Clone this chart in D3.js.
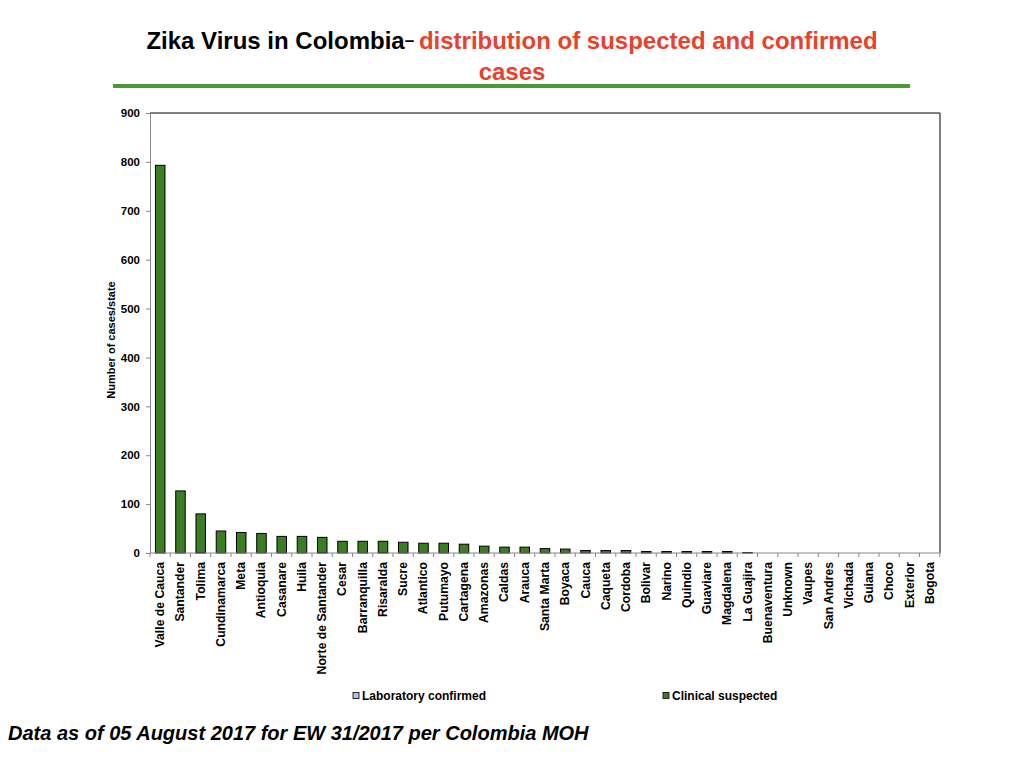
<!DOCTYPE html>
<html>
<head>
<meta charset="utf-8">
<script src="https://cdn.jsdelivr.net/npm/d3@7"></script>
<style>
  body { margin: 0; background: #fff; }
  text { font-family: "Liberation Sans", Arial, Helvetica, sans-serif; }
</style>
</head>
<body>
<svg id="chart"></svg>
<script>
// Data
const states = ["Valle de Cauca", "Santander", "Tolima", "Cundinamarca", "Meta", "Antioquia",
    "Casanare", "Huila", "Norte de Santander", "Cesar", "Barranquilla", "Risaralda", "Sucre",
    "Atlantico", "Putumayo", "Cartagena", "Amazonas", "Caldas", "Arauca", "Santa Marta",
    "Boyaca", "Cauca", "Caqueta", "Cordoba", "Bolivar", "Narino", "Quindio", "Guaviare",
    "Magdalena", "La Guajira", "Buenaventura", "Unknown", "Vaupes", "San Andres", "Vichada",
    "Guiana", "Choco", "Exterior", "Bogota"];
const labConfirmed = [0, 0, 1, 0, 0, 0, 0, 0, 1, 0, 0, 1, 0, 0, 0, 0, 0, 0, 0, 0,
    0, 0, 0, 0, 0, 0, 0, 0, 0, 0, 0, 0, 0, 0, 0, 0, 0, 0, 0];
const clinicalSuspected = [793, 127, 79, 45, 42, 40, 34, 34, 31, 24, 24, 23, 22, 20, 20, 18, 14, 12, 12, 9,
    8, 5, 5, 5, 3, 3, 3, 3, 3, 1, 0, 0, 0, 0, 0, 0, 0, 0, 0];
const yTicks = [0, 100, 200, 300, 400, 500, 600, 700, 800, 900];
const seriesNames = ["Laboratory confirmed", "Clinical suspected"];
const seriesColors = ["#a9c4e6", "#3a7d22"];

const width = 1024, height = 768;
const margin = {top: 113, bottom: 215, left: 150, right: 84};

const svg = d3.select("#chart")
    .attr("width", width)
    .attr("height", height);

// Title
const title = svg.append("text")
    .attr("x", 512)
    .attr("y", 49)
    .style("text-anchor", "middle")
    .style("font-weight", "bold")
    .style("font-size", "24px");
title.append("tspan").attr("fill", "#000").text("Zika Virus in Colombia");
title.append("tspan").attr("fill", "#000").attr("dy", -3).style("font-size", "17px").text("– ");
title.append("tspan").attr("fill", "#e8412c").attr("dy", 3).text(" distribution of suspected and confirmed");

svg.append("text")
    .attr("x", 512)
    .attr("y", 80)
    .style("text-anchor", "middle")
    .style("font-weight", "bold")
    .style("font-size", "24px")
    .attr("fill", "#e8412c")
    .text("cases");

svg.append("line")
    .attr("x1", 113).attr("x2", 910)
    .attr("y1", 86).attr("y2", 86)
    .attr("stroke", "#4a9a35")
    .attr("stroke-width", 4);

// Stack the two series
const table = states.map((s, i) => ({state: s, lab: labConfirmed[i], clinical: clinicalSuspected[i]}));
const stacked = d3.stack().keys(["lab", "clinical"])(table);

const xScale = d3.scaleBand()
    .domain(states)
    .range([margin.left, width - margin.right])
    .paddingInner(0.53)
    .paddingOuter(0.27);

const yScale = d3.scaleLinear()
    .domain([0, 900])
    .range([height - margin.bottom, margin.top]);

const plotRight = width - margin.right;
const plotBottom = height - margin.bottom;

// Top and right frame
svg.append("path")
    .attr("d", `M${margin.left},${margin.top}H${plotRight}V${plotBottom}`)
    .attr("fill", "none")
    .attr("stroke", "#000")
    .attr("stroke-width", 1);

// Bars
svg.append("g").selectAll("g")
    .data(stacked)
    .enter().append("g")
    .attr("fill", (d, i) => seriesColors[i])
    .selectAll("rect")
    .data(d => d.filter(p => p[1] - p[0] > 0))
    .enter().append("rect")
    .attr("x", d => xScale(d.data.state))
    .attr("y", d => yScale(d[1]))
    .attr("width", xScale.bandwidth())
    .attr("height", d => yScale(d[0]) - yScale(d[1]))
    .attr("stroke", "#000")
    .attr("stroke-width", 1);

// Y axis
const yAxis = svg.append("g")
    .attr("transform", `translate(${margin.left}, 0)`)
    .call(d3.axisLeft(yScale).tickValues(yTicks).tickSize(4).tickPadding(6));
yAxis.select(".domain").attr("stroke", "#888");
yAxis.selectAll(".tick line").attr("stroke", "#888");
yAxis.selectAll("text")
    .style("font-family", "'Liberation Sans', Arial, sans-serif")
    .style("font-weight", "bold")
    .style("font-size", "11.5px")
    .attr("fill", "#000");

// X axis: ticks at category boundaries
const xAxis = svg.append("g")
    .attr("transform", `translate(0, ${plotBottom})`);
xAxis.append("line")
    .attr("x1", margin.left).attr("x2", plotRight)
    .attr("stroke", "#888");
const step = xScale.step();
xAxis.selectAll(".bt")
    .data(d3.range(states.length + 1))
    .enter().append("line")
    .attr("x1", i => margin.left + i * step)
    .attr("x2", i => margin.left + i * step)
    .attr("y1", 0).attr("y2", 4)
    .attr("stroke", "#888");

xAxis.selectAll(".xl")
    .data(states)
    .enter().append("text")
    .attr("transform", d => `translate(${xScale(d) + xScale.bandwidth() / 2 + 4}, 9) rotate(-90)`)
    .style("text-anchor", "end")
    .style("font-weight", "bold")
    .style("font-size", "12.2px")
    .text(d => d);

// Y-axis label
svg.append("text")
    .attr("x", -340)
    .attr("y", 115)
    .attr("transform", "rotate(-90)")
    .style("text-anchor", "middle")
    .style("font-weight", "bold")
    .style("font-size", "11px")
    .text("Number of cases/state");

// Legend
const legendX = [353, 663];
const legend = svg.selectAll(".legend")
    .data(seriesNames)
    .enter().append("g")
    .attr("class", "legend")
    .attr("transform", (d, i) => `translate(${legendX[i]}, 692)`);

legend.append("rect")
    .attr("width", 6).attr("height", 6)
    .attr("y", 0.5)
    .attr("fill", (d, i) => seriesColors[i])
    .attr("stroke", "#000")
    .attr("stroke-width", 0.8);

legend.append("text")
    .attr("x", 9)
    .attr("y", 8)
    .style("font-weight", "bold")
    .style("font-size", "12px")
    .text(d => d);

// Footnote
svg.append("text")
    .attr("x", 8)
    .attr("y", 740)
    .style("font-weight", "bold")
    .style("font-style", "italic")
    .style("font-size", "20px")
    .text("Data as of 05 August 2017 for EW 31/2017 per Colombia MOH");
</script>
</body>
</html>
